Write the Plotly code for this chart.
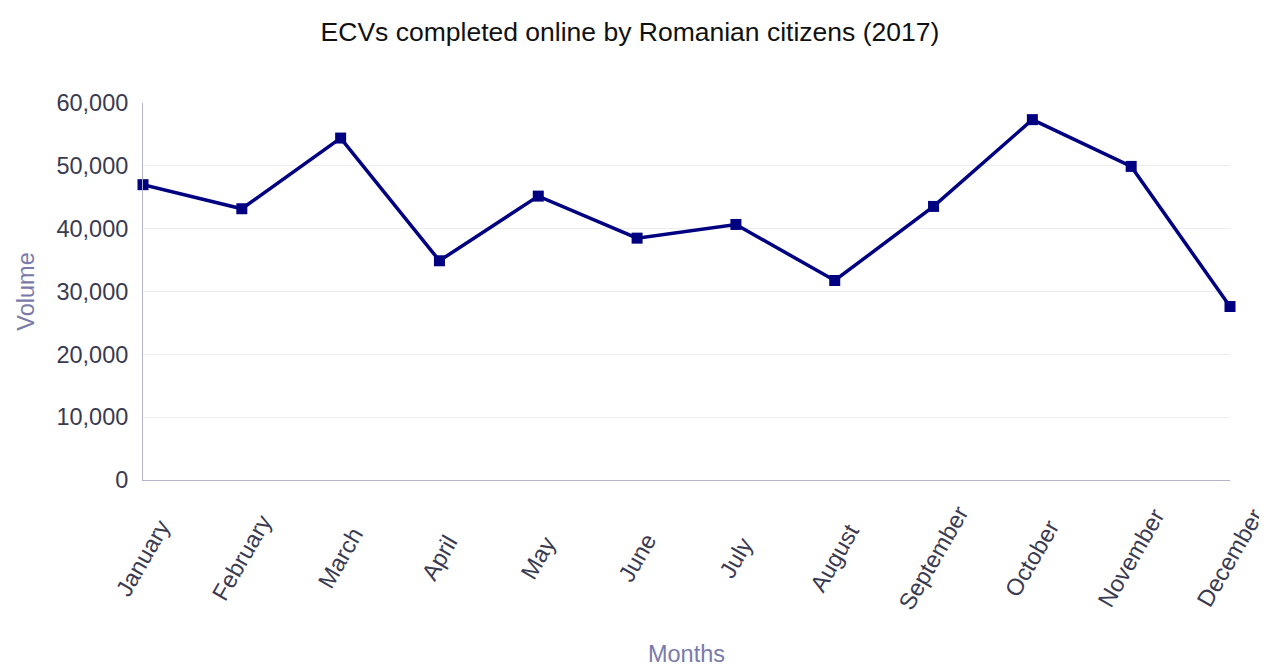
import plotly.graph_objects as go

months = ["January", "February", "March", "April", "May", "June", "July",
          "August", "September", "October", "November", "December"]
volumes = [47000, 43170, 54420, 34890, 45180, 38490, 40670, 31750, 43540, 57350, 49910, 27610]
y_ticks = [0, 10000, 20000, 30000, 40000, 50000, 60000]

fig = go.Figure()
fig.add_trace(go.Scatter(
    x=months, y=volumes, mode="lines+markers",
    line=dict(color="#000080", width=3.5),
    marker=dict(symbol="square", size=11, color="#000080"),
    cliponaxis=False, showlegend=False,
))

# rotated month labels, centred under each category tick
for m in months:
    fig.add_annotation(
        x=m, y=0, xref="x", yref="y", text=m, showarrow=False,
        textangle=-60, xanchor="center", yanchor="middle", yshift=-78,
        font=dict(size=23.5, color="#3a3a50"),
    )

fig.update_layout(
    width=1259, height=659,
    margin=dict(l=135, r=37, t=95, b=187),
    paper_bgcolor="white", plot_bgcolor="white",
    font=dict(family="Liberation Sans, Arial, sans-serif"),
    title=dict(text="ECVs completed online by Romanian citizens (2017)",
               x=0.494, xanchor="center", y=0.9636, yanchor="middle",
               font=dict(size=26.5, color="#111111")),
    xaxis=dict(
        range=[0, 11], showgrid=False, automargin=False, showticklabels=False,
        showline=True, linecolor="#b4b4cc", linewidth=1, ticks="",
        title=dict(text="Months", font=dict(size=23.5, color="#7a7aaa"), standoff=165),
    ),
    yaxis=dict(
        range=[0, 60000], tickvals=y_ticks, tickformat=",", automargin=False,
        showgrid=True, gridcolor="#ececf2", gridwidth=1, zeroline=False,
        showline=True, linecolor="#b4b4cc", linewidth=1,
        tickfont=dict(size=23.5, color="#3a3a50"), ticks="", ticklen=0,
        ticklabelstandoff=9,
        title=dict(text="Volume", font=dict(size=23.5, color="#7a7aaa"), standoff=15),
    ),
)

fig.write_html("out.html")
